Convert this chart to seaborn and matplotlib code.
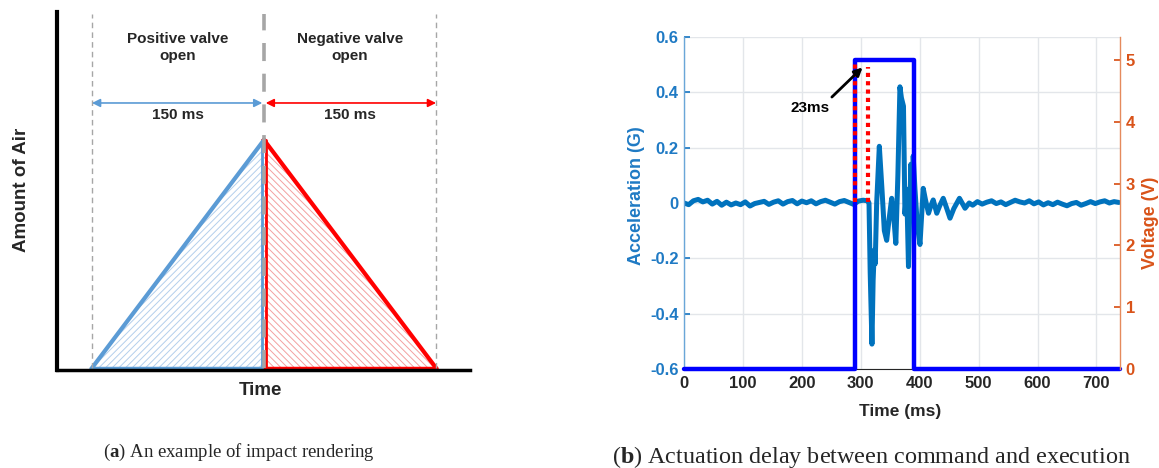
import numpy as np
import pandas as pd
import seaborn as sns
import matplotlib.pyplot as plt
from matplotlib.transforms import offset_copy

# ---- panel (a): impact rendering schematic ----
valve_ms = 150
pos_t = [0, 150, 150]
pos_air = [0, 1.0, 0]
neg_t = [150, 150, 300]
neg_air = [0, 1.0, 0]
bound_t = [0, 300]
center_t = 150

# ---- panel (b): actuation delay ----
pre_t = [0, 8, 16, 24, 32, 40, 48, 56, 64, 72, 80, 88, 96, 104, 112, 120, 128, 136, 144, 152,
         160, 168, 176, 184, 192, 200, 208, 216, 224, 232, 240, 248, 256, 264, 272, 280, 288, 296, 304, 312]
pre_g = [0.0, -0.006, 0.008, 0.013, 0.004, 0.010, -0.004, 0.006, -0.008, 0.003, -0.007, 0.000, -0.006, 0.004,
         -0.011, -0.002, 0.002, 0.006, -0.005, 0.003, 0.008, -0.004, 0.005, 0.009, -0.003, 0.007, 0.001, 0.008,
         -0.003, 0.005, 0.010, 0.003, -0.004, 0.005, 0.009, 0.002, -0.005, 0.007, 0.010, 0.008]
burst_t = [314, 316, 319, 321, 323, 324.5, 327, 331.5, 336, 340, 344, 348, 352.5, 356, 359.5, 363, 366.5, 369,
           372.5, 375, 378, 381, 385, 387, 389, 392, 396, 400.5, 406, 410, 415, 419, 423, 429, 434, 440, 446,
           451.5, 458, 467.5, 472, 477, 484]
burst_g = [0.0, -0.25, -0.51, -0.28, -0.17, -0.22, 0.0, 0.205, 0.05, -0.1, -0.135, -0.06, 0.017, -0.05, -0.146,
           0.1, 0.42, 0.38, 0.35, -0.04, 0.05, -0.23, 0.14, 0.0, 0.17, 0.05, -0.08, -0.15, 0.053, 0.01, -0.037,
           -0.01, 0.011, -0.037, -0.01, 0.017, -0.02, -0.055, -0.02, 0.017, 0.0, -0.019, 0.0]
post_t = [490, 498, 506, 514, 522, 530, 538, 546, 554, 562, 570, 578, 586, 594, 602, 610, 618, 626, 634, 642,
          650, 658, 666, 674, 682, 690, 698, 706, 714, 722, 730, 738]
post_g = [-0.008, 0.005, -0.004, 0.003, 0.008, -0.002, 0.004, -0.006, 0.002, 0.010, 0.004, 0.000, 0.008, -0.003,
          0.004, -0.007, 0.001, -0.006, 0.003, -0.004, -0.010, -0.002, 0.002, -0.008, -0.002, 0.005, -0.002, 0.004,
          0.008, 0.000, 0.005, 0.002]
pulse_t = [0, 290, 290, 391, 391, 740]
pulse_v = [0, 0, 5.0, 5.0, 0, 0]
cmd_ms = 290
delay_ms = 23
xticks_b = [0, 100, 200, 300, 400, 500, 600, 700]
yticks_g = [-0.6, -0.4, -0.2, 0, 0.2, 0.4, 0.6]
ylabels_g = ['-0.6', '-0.4', '-0.2', '0', '0.2', '0.4', '0.6']
yticks_v = [0, 1, 2, 3, 4, 5]

sns.set_theme(style='white')
plt.rcParams['font.family'] = ['Liberation Sans', 'DejaVu Sans']
plt.rcParams['hatch.linewidth'] = 0.7
plt.rcParams['mathtext.fontset'] = 'custom'
plt.rcParams['mathtext.rm'] = 'Liberation Serif'
plt.rcParams['mathtext.bf'] = 'Liberation Serif:bold'

fig = plt.figure(figsize=(11.59, 4.68), dpi=100)

# ================= panel (a) =================
axA = fig.add_axes([57 / 1159, (468 - 370) / 468, 413 / 1159, 358 / 468])
axA.set_xlim(-30.5, 329.6)
axA.set_ylim(-0.009, 1.561)
for s in ['top', 'right']:
    axA.spines[s].set_visible(False)
axA.spines['left'].set_color('black')
axA.spines['left'].set_linewidth(3)
axA.spines['bottom'].set_color('black')
axA.spines['bottom'].set_linewidth(2.5)
axA.set_xticks([])
axA.set_yticks([])

blue = '#5B9BD5'
red = '#FF0000'
axA.fill(pos_t, pos_air, facecolor='none', edgecolor='#b3cfec', hatch='/////', linewidth=0)
axA.fill(neg_t, neg_air, facecolor='none', edgecolor='#f3a0a0', hatch='\\\\\\\\\\', linewidth=0)

# sloped and bottom edges
axA.plot(pos_t[:2], pos_air[:2], color=blue, lw=3, solid_capstyle='projecting')
axA.plot([pos_t[0], pos_t[2]], [pos_air[0], pos_air[2]], color=blue, lw=2.5)
axA.plot(neg_t[1:], neg_air[1:], color=red, lw=3, solid_capstyle='projecting')
axA.plot([neg_t[0], neg_t[2]], [neg_air[0], neg_air[2]], color=red, lw=2.5)
# vertical edges, nudged apart around the centre line
left_tr = offset_copy(axA.transData, fig=fig, x=-2.2, y=0, units='dots')
right_tr = offset_copy(axA.transData, fig=fig, x=2.2, y=0, units='dots')
axA.plot(pos_t[1:], pos_air[1:], color=blue, lw=2, transform=left_tr)
axA.plot(neg_t[:2], neg_air[:2], color=red, lw=2, transform=right_tr)

for t in bound_t:
    axA.plot([t, t], [0, 1.553], color='#a6a6a6', lw=1, ls=(0, (4, 3)))
axA.plot([center_t, center_t], [0, 1.553], color='#a6a6a6', lw=2.6, ls=(0, (5, 3.5)), zorder=3)

arrow_y = 1.162
axA.annotate('', xy=(bound_t[0], arrow_y), xytext=(center_t - 1.5, arrow_y),
             arrowprops=dict(arrowstyle='<|-|>', color=blue, lw=1.2, mutation_scale=12, shrinkA=0, shrinkB=0))
axA.annotate('', xy=(center_t + 1.5, arrow_y), xytext=(bound_t[1], arrow_y),
             arrowprops=dict(arrowstyle='<|-|>', color=red, lw=1.2, mutation_scale=12, shrinkA=0, shrinkB=0))

axA.text(valve_ms / 2, 1.404, 'Positive valve\nopen', ha='center', va='center', fontsize=11,
         fontweight='bold', linespacing=1.3)
axA.text(valve_ms * 1.5, 1.404, 'Negative valve\nopen', ha='center', va='center', fontsize=11,
         fontweight='bold', linespacing=1.3)
axA.text(valve_ms / 2, 1.11, f'{valve_ms} ms', ha='center', va='center', fontsize=11, fontweight='bold')
axA.text(valve_ms * 1.5, 1.11, f'{valve_ms} ms', ha='center', va='center', fontsize=11, fontweight='bold')
axA.text(-0.085, 0.503, 'Amount of Air', transform=axA.transAxes, rotation=90, ha='center',
         va='center', fontsize=13.5, fontweight='bold')
axA.text(0.4915, -0.056, 'Time', transform=axA.transAxes, ha='center', va='center',
         fontsize=13.5, fontweight='bold')

# ================= panel (b) =================
acc = pd.DataFrame({'t': pre_t + burst_t + post_t, 'g': pre_g + burst_g + post_g})
pulse = pd.DataFrame({'t': pulse_t, 'v': pulse_v})

acc_col = '#0072BD'
lab_blue = '#1f7ac4'
orange = '#D95319'

axB = fig.add_axes([684 / 1159, (468 - 369) / 468, 436 / 1159, 332 / 468])
axB2 = axB.twinx()

sns.lineplot(data=acc, x='t', y='g', ax=axB, color=acc_col, lw=3.6, estimator=None, sort=False)
sns.lineplot(data=pulse, x='t', y='v', ax=axB2, color='#0000FF', lw=3.2, estimator=None, sort=False,
             clip_on=False)

axB.set_xlim(0, 740)
axB.set_ylim(-0.6, 0.6)
axB2.set_ylim(0, 5.372)

# delay markers (red dotted) drawn on top
axB2.plot([cmd_ms, cmd_ms], [0.004, 0.51], color='red', lw=3, ls=(0, (1, 1)), transform=axB.transData)
axB2.plot([cmd_ms + delay_ms, cmd_ms + delay_ms], [0.004, 0.49], color='red', lw=3, ls=(0, (1, 1)),
          transform=axB.transData)
axB2.annotate('', xy=(303, 0.49), xytext=(251, 0.383), xycoords=axB.transData, textcoords=axB.transData,
              arrowprops=dict(arrowstyle='-|>', color='black', lw=2, mutation_scale=12, shrinkA=0, shrinkB=0))
axB2.text(214, 0.343, f'{delay_ms}ms', transform=axB.transData, ha='center', va='center',
          fontsize=11, fontweight='bold', color='black')

axB.grid(True, color='#e3e6ea', lw=1)
axB.set_xticks(xticks_b)
axB.set_xticklabels([str(x) for x in xticks_b], fontsize=12, fontweight='bold', color='#262626')
axB.set_yticks(yticks_g)
axB.set_yticklabels(ylabels_g, fontsize=12, fontweight='bold', color=lab_blue)
axB2.set_yticks(yticks_v)
axB2.set_yticklabels([str(v) for v in yticks_v], fontsize=12, fontweight='bold', color=orange)
axB.tick_params(axis='x', direction='in', length=4, pad=5, colors='#262626', labelcolor='#262626')
axB.tick_params(axis='y', direction='in', length=4, pad=4, color=lab_blue)
axB2.tick_params(axis='y', direction='in', length=4, pad=4, color=orange)
axB.set_xlabel('')
axB.set_ylabel('')
axB2.set_ylabel('')

for s in ['top']:
    axB.spines[s].set_visible(False)
    axB2.spines[s].set_visible(False)
axB.spines['right'].set_visible(False)
axB2.spines['left'].set_visible(False)
axB2.spines['bottom'].set_visible(False)
axB.spines['left'].set_color('#6aa6d8')
axB.spines['left'].set_linewidth(1)
axB.spines['bottom'].set_color('#262626')
axB.spines['bottom'].set_linewidth(0.8)
axB2.spines['right'].set_color('#e58a5c')
axB2.spines['right'].set_linewidth(1)

axB.text(-0.110, 0.521, 'Acceleration (G)', transform=axB.transAxes, rotation=90, ha='center',
         va='center', fontsize=13, fontweight='bold', color=lab_blue)
axB.text(1.07, 0.44, 'Voltage (V)', transform=axB.transAxes, rotation=90, ha='center',
         va='center', fontsize=13, fontweight='bold', color=orange)
axB.text(0.495, -0.127, 'Time (ms)', transform=axB.transAxes, ha='center', va='center',
         fontsize=12.5, fontweight='bold', color='#262626')

# ---- captions ----
cap_font = ['Liberation Serif', 'DejaVu Serif']
fig.text(103 / 1159, 1 - 452 / 468, r'($\mathbf{a}$) An example of impact rendering', ha='left',
         va='center', fontsize=13.5, family=cap_font)
fig.text(612 / 1159, 1 - 457 / 468, r'($\mathbf{b}$) Actuation delay between command and execution',
         ha='left', va='center', fontsize=17.4, family=cap_font)

fig.savefig('out.png', dpi=100)
